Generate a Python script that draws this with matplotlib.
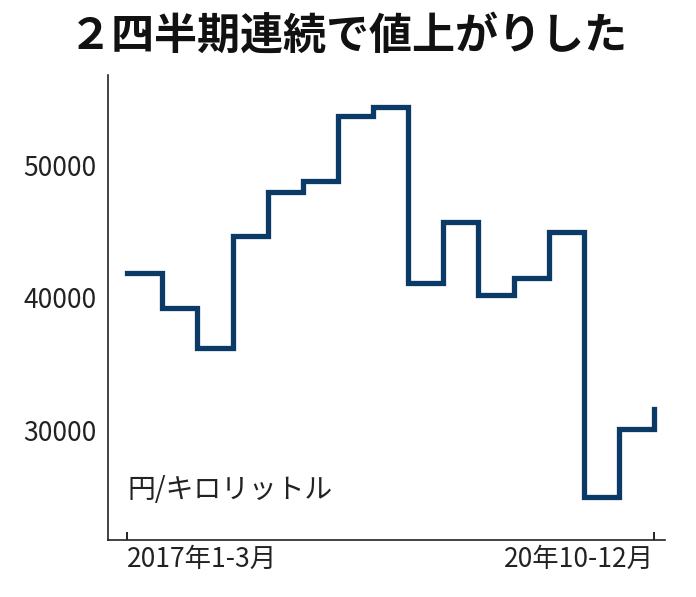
import matplotlib
matplotlib.use("Agg")
import matplotlib.pyplot as plt

plt.rcParams['font.family'] = ['Noto Sans CJK JP', 'DejaVu Sans']

quarters = list(range(16))
values = [41900, 39250, 36200, 44700, 48000, 48800, 53700, 54400,
          41100, 45700, 40200, 41500, 45000, 25000, 30100, 31600]
tick_pos = [0, 15]
tick_labels = ["2017年1-3月", "20年10-12月"]
yticks = [30000, 40000, 50000]

fig = plt.figure(figsize=(6.96, 5.97), dpi=100)
ax = fig.add_axes([0.155, 0.095, 0.80, 0.779])
ax.step(quarters, values, where='post', color='#0b3a66', lw=3.8, solid_joinstyle='miter')
ax.set_xlim(-0.55, 15.3)
ax.set_ylim(21700, 56800)
ax.set_yticks(yticks)
ax.set_yticklabels([str(v) for v in yticks], fontsize=19, color='#222222')
ax.set_xticks(tick_pos)
labs = ax.set_xticklabels(tick_labels, fontsize=19, color='#222222')
labs[0].set_ha('left')
labs[0].set_x(-0.02)
labs[1].set_ha('right')
import matplotlib.transforms as mt
labs[0].set_transform(labs[0].get_transform() + mt.ScaledTranslation(-0.8, 0, fig.dpi_scale_trans))
labs[1].set_transform(labs[1].get_transform() + mt.ScaledTranslation(0.1, 0, fig.dpi_scale_trans))
ax.tick_params(axis='y', length=0, pad=8)
ax.tick_params(axis='x', length=6, width=1.2, direction='in', pad=4)
for s in ['top', 'right']:
    ax.spines[s].set_visible(False)
for s in ['left', 'bottom']:
    ax.spines[s].set_linewidth(1.2)
    ax.spines[s].set_color('#222222')
ax.text(0.035, 0.09, "円/キロリットル", transform=ax.transAxes, fontsize=20, color='#222222')
fig.text(0.5, 0.94, "２四半期連続で値上がりした", ha='center', va='center',
         fontsize=31, fontweight='bold', color='#111111')
fig.savefig("out.png", dpi=100, facecolor='white')
